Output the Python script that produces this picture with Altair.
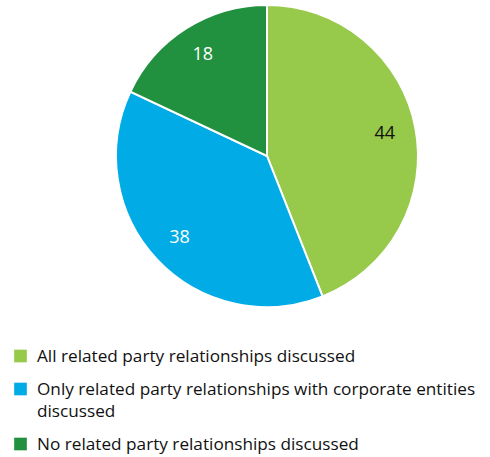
import altair as alt
import pandas as pd

categories = [
    "All related party relationships discussed",
    "Only related party relationships with corporate entities discussed",
    "No related party relationships discussed",
]
values = [44, 38, 18]
colors = ["#97C94A", "#00ABE6", "#21903F"]
label_colors = ["#111111", "#FFFFFF", "#FFFFFF"]
legend_lines = [
    ["All related party relationships discussed"],
    ["Only related party relationships with corporate entities", "discussed"],
    ["No related party relationships discussed"],
]

df = pd.DataFrame({
    "category": categories,
    "value": values,
    "order": list(range(len(categories))),
    "label_color": label_colors,
    "legend_text": ["\n".join(l) for l in legend_lines],
    "extra": [len(l) - 1 for l in legend_lines],
})

FONT = "Open Sans"
CX, CY, R = 267, 156, 151

color_enc = alt.Color("category:N", scale=alt.Scale(domain=categories, range=colors), legend=None)
base = alt.Chart(df)

arcs = base.mark_arc(outerRadius=R, stroke="white", strokeWidth=2).encode(
    theta=alt.Theta("value:Q", stack=True),
    color=color_enc,
    order=alt.Order("order:Q"),
    x=alt.value(CX),
    y=alt.value(CY),
)

labels = base.mark_text(radius=120, fontSize=18, font=FONT).encode(
    theta=alt.Theta("value:Q", stack=True),
    text=alt.Text("value:Q"),
    fill=alt.Fill("label_color:N", scale=None),
    order=alt.Order("order:Q"),
    x=alt.value(CX),
    y=alt.value(CY),
)

legend_base = base.transform_window(
    cum_extra="sum(extra)", sort=[alt.SortField("order")], frame=[None, 0]
).transform_calculate(
    pos="356 + datum.order * 33 + (datum.cum_extra - datum.extra) * 22"
)

yenc = alt.Y("pos:Q", scale=alt.Scale(domain=[0, 457], reverse=True), axis=None)

squares = legend_base.mark_square(size=160, opacity=1).encode(
    x=alt.value(20.5),
    y=yenc,
    color=color_enc,
)

legend_text = legend_base.mark_text(
    align="left", baseline="top", dy=-8, fontSize=17.2, lineBreak="\n",
    lineHeight=22, font=FONT, color="#111111",
).encode(
    x=alt.value(37),
    y=yenc,
    text="legend_text:N",
)

chart = alt.layer(arcs, labels, squares, legend_text).properties(
    width=490, height=457, autosize=alt.AutoSizeParams(type="none"), padding=0,
    background="white",
).configure_view(stroke=None)

chart.save("out.html", embed_options={"renderer": "svg", "actions": False})
